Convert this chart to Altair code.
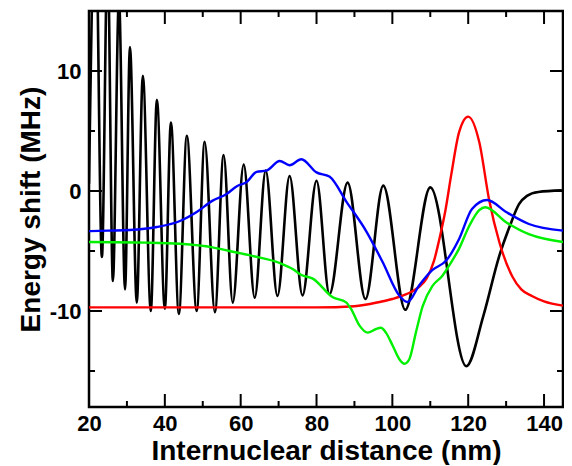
import altair as alt
import pandas as pd

# ---- axis tick values ----
x_major = [20, 40, 60, 80, 100, 120, 140]
x_minor = [30, 50, 70, 90, 110, 130]
y_major = [-10, 0, 10]
y_minor = [-15, -5, 5]

# ---- black curve: extrema ----
black_x = [20.0, 21.7, 23.4, 24.9, 26.3, 27.9, 29.5, 30.8, 32.6, 34.2, 36.3, 37.9,
           40.0, 41.6, 43.7, 45.8, 48.4, 50.5, 53.2, 55.5, 57.9, 60.8, 63.7, 66.6,
           69.7, 72.9, 76.3, 80.0, 83.4, 88.2, 92.9, 97.6, 103.4, 110.0, 119.5,
           124.0, 128.2, 131.0, 133.4, 135.5, 138.5, 144.7]
black_y = [0.6, 24.0, -5.5, 20.0, -7.5, 16.0, -8.2, 12.0, -9.3, 9.6, -10.0, 7.6,
           -9.8, 5.7, -10.25, 4.6, -10.0, 4.1, -10.1, 3.0, -9.3, 2.2, -8.9, 1.7,
           -8.75, 1.25, -8.7, 0.85, -8.6, 0.7, -9.0, 0.45, -9.9, 0.3, -14.6,
           -10.4, -5.4, -2.9, -1.1, -0.4, -0.08, 0.05]

# ---- blue curve ----
blue_x = [20, 25, 30.8, 37.9, 44, 48.4, 52.6, 56.3, 59, 61.6, 64.2, 66.8, 70.3,
          72.9, 76, 80, 83.4, 87.9, 93.2, 97.4, 101.8, 104, 107, 110.5, 114.2,
          117.6, 121, 125, 130, 136, 145]
blue_y = [-3.35, -3.3, -3.25, -3.0, -2.5, -1.75, -0.8, -0.25, 0.4, 0.75, 1.6, 1.7,
          2.5, 2.15, 2.65, 1.55, 1.2, -0.9, -3.4, -5.9, -8.7, -9.25, -7.9, -6.6,
          -5.8, -4.0, -1.5, -0.75, -1.75, -2.75, -3.3]

# ---- green curve ----
green_x = [20, 35, 44, 52.6, 57, 63, 70.3, 73.7, 76, 79, 84.3, 87.8, 89.1, 91.3,
           93.5, 95.7, 97.0, 98.3, 100.1, 101.8, 103.2, 104.5, 106.2, 108.0, 110.6,
           113.2, 115.0, 117.6, 120.3, 122.9, 124.5, 130, 136, 145]
green_y = [-4.25, -4.3, -4.4, -4.7, -5.0, -5.4, -6.0, -6.5, -7.0, -7.3, -8.86, -9.28,
           -9.83, -11.2, -11.8, -11.5, -11.4, -11.8, -12.9, -14.0, -14.4, -14.0,
           -11.8, -9.6, -7.9, -7.06, -6.2, -4.8, -2.9, -1.6, -1.36, -2.6, -3.6, -4.25]

# ---- red curve ----
red_x = [20, 80, 90, 96.6, 100, 103.7, 107, 109, 111, 112.4, 114, 115.5, 117.6,
         120, 122.9, 125.5, 128.2, 131.6, 134, 136.8, 140, 145]
red_y = [-9.7, -9.7, -9.6, -9.25, -9.0, -8.6, -8.0, -7.3, -5.8, -4.0, -1.6, 1.3,
         4.9, 6.2, 4.1, -0.7, -4.25, -7.1, -8.2, -8.75, -9.2, -9.55]

W, H = 474, 396
FONT = "Liberation Sans"
xs = alt.Scale(domain=[20, 145], nice=False, zero=False)
ys = alt.Scale(domain=[-18, 15], nice=False, zero=False)

x_axis = alt.Axis(values=x_major, ticks=False, tickSize=0, domain=False, grid=False,
                  labelFont=FONT, labelFontSize=22, labelFontWeight="bold",
                  labelColor="black", labelPadding=6, labelFlush=False,
                  title="Internuclear distance (nm)", titleFont=FONT,
                  titleFontSize=28, titleFontWeight="bold", titleColor="black",
                  titlePadding=3)
y_axis = alt.Axis(values=y_major, ticks=False, tickSize=0, domain=False, grid=False,
                  labelFont=FONT, labelFontSize=22, labelFontWeight="bold",
                  labelColor="black", labelPadding=8, labelFlush=False,
                  labelExpr="'' + datum.value",
                  title="Energy shift (MHz)", titleFont=FONT,
                  titleFontSize=28, titleFontWeight="bold", titleColor="black",
                  titlePadding=4)

X = alt.X("x:Q", scale=xs, axis=x_axis)
Y = alt.Y("y:Q", scale=ys, axis=y_axis)


def curve(xv, yv, color, width):
    df = pd.DataFrame({"x": xv, "y": yv})
    return alt.Chart(df).mark_line(color=color, strokeWidth=width,
                                   interpolate="monotone", clip=True).encode(x=X, y=Y)


def xticks(vals, length):
    df = pd.DataFrame({"x": vals})
    base = alt.Chart(df).mark_rule(color="black", strokeWidth=2)
    bottom = base.encode(x=X, y=alt.value(H), y2=alt.value(H - length))
    top = base.encode(x=X, y=alt.value(0), y2=alt.value(length))
    return [bottom, top]


def yticks(vals, length):
    df = pd.DataFrame({"y": vals})
    base = alt.Chart(df).mark_rule(color="black", strokeWidth=2)
    left = base.encode(y=Y, x=alt.value(0), x2=alt.value(length))
    right = base.encode(y=Y, x=alt.value(W), x2=alt.value(W - length))
    return [left, right]


layers = [
    curve(black_x, black_y, "#000000", 2.6),
    curve(red_x, red_y, "#ff0000", 2.4),
    curve(green_x, green_y, "#00f000", 2.4),
    curve(blue_x, blue_y, "#0000ff", 2.4),
]
layers += xticks(x_major, 13) + xticks(x_minor, 6)
layers += yticks(y_major, 13) + yticks(y_minor, 6)

chart = alt.layer(*layers).properties(
    width=W, height=H,
    autosize=alt.AutoSizeParams(type="none"),
    padding={"left": 81, "top": 3, "right": 1, "bottom": 58},
).configure_view(stroke="black", strokeWidth=2.5)

chart.save("out.html", embed_options={"renderer": "svg", "actions": False})
